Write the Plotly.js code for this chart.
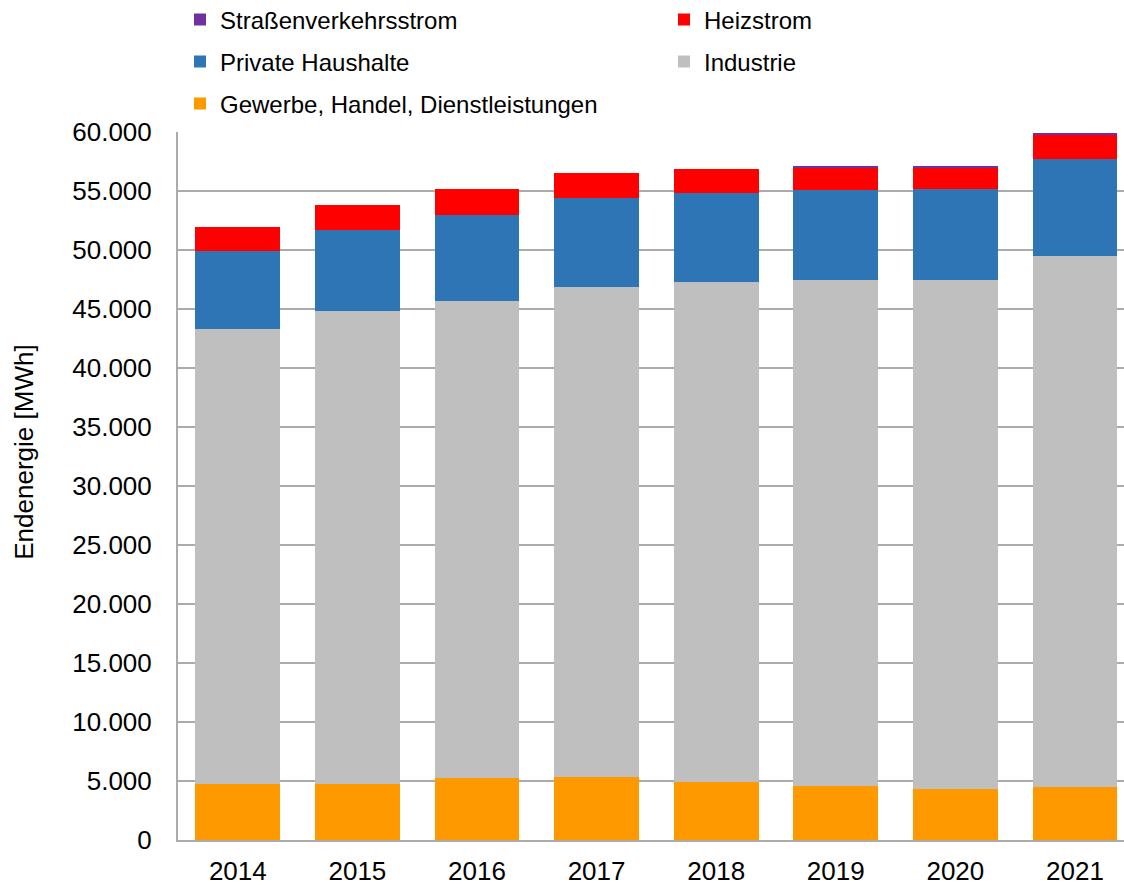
<!DOCTYPE html>
<html>
<head>
<meta charset="utf-8">
<script src="https://cdn.plot.ly/plotly-3.0.1.min.js"></script>
<style>
  body { margin: 0; background: #fff; }
  #chart { width: 1124px; height: 885px; }
</style>
</head>
<body>
<div id="chart"></div>
<script>
// years on the x axis
var years = ["2014", "2015", "2016", "2017", "2018", "2019", "2020", "2021"];

// end energy per sector in MWh
var gewerbe = [4770, 4770, 5280, 5360, 4890, 4550, 4350, 4520];
var industrie = [38530, 40030, 40420, 41480, 42400, 42880, 43110, 44970];
var privateHaushalte = [6640, 6870, 7290, 7590, 7570, 7630, 7680, 8250];
var heizstrom = [1980, 2120, 2150, 2100, 1980, 1970, 1860, 2030];
var strassenverkehr = [0, 0, 0, 0, 0, 80, 60, 170];

var yTicks = [0, 5000, 10000, 15000, 20000, 25000, 30000, 35000, 40000, 45000, 50000, 55000, 60000];

function bar(name, values, color, legendId) {
    return {
        x: years,
        y: values,
        name: name,
        type: "bar",
        legend: legendId,
        marker: {color: color, line: {width: 0}},
        hoverinfo: "name+y"
    };
}

var data = [
    bar("Gewerbe, Handel, Dienstleistungen", gewerbe, "#FF9900", "legend5"),
    bar("Industrie", industrie, "#BFBFBF", "legend4"),
    bar("Private Haushalte", privateHaushalte, "#2E75B6", "legend3"),
    bar("Heizstrom", heizstrom, "#FF0000", "legend2"),
    bar("Straßenverkehrsstrom", strassenverkehr, "#7030A0", "legend")
];

// each legend entry sits on its own spot (two columns, three rows)
function legendAt(xPx, yPx) {
    return {
        xref: "container",
        yref: "container",
        x: xPx / 1124,
        xanchor: "left",
        y: 1 - yPx / 885,
        yanchor: "middle",
        font: {size: 24, color: "#000"},
        bgcolor: "rgba(0,0,0,0)",
        borderwidth: 0
    };
}

var layout = {
    width: 1124,
    height: 885,
    margin: {l: 178, r: 0, t: 132, b: 45, autoexpand: false},
    paper_bgcolor: "#fff",
    plot_bgcolor: "#fff",
    font: {family: "Liberation Sans, Arial, sans-serif", size: 20, color: "#000"},
    separators: ",.",
    barmode: "stack",
    bargap: 0.29,
    showlegend: true,
    legend: legendAt(180, 20),
    legend2: legendAt(664, 20),
    legend3: legendAt(180, 62),
    legend4: legendAt(664, 62),
    legend5: legendAt(180, 104),
    xaxis: {
        type: "category",
        // the original chart is cropped a little on the right
        range: [-0.5, 7.41],
        showgrid: false,
        showline: true,
        linecolor: "#ABABAB",
        linewidth: 2,
        ticks: "outside",
        ticklen: 7,
        tickcolor: "rgba(0,0,0,0)",
        tickfont: {size: 26}
    },
    yaxis: {
        range: [0, 60000],
        tickvals: yTicks,
        tickformat: ",d",
        showgrid: true,
        gridcolor: "#ABABAB",
        gridwidth: 2,
        showline: true,
        linecolor: "#ABABAB",
        linewidth: 2,
        zeroline: false,
        ticks: "outside",
        ticklen: 19,
        tickcolor: "rgba(0,0,0,0)",
        tickfont: {size: 26}
    },
    annotations: [{
        text: "Endenergie [MWh]",
        xref: "paper",
        yref: "paper",
        x: (24 - 178) / 946,
        y: 0.547,
        xanchor: "center",
        yanchor: "middle",
        textangle: -90,
        showarrow: false,
        font: {size: 26, color: "#000"}
    }]
};

Plotly.newPlot("chart", data, layout, {displayModeBar: false});
</script>
</body>
</html>
